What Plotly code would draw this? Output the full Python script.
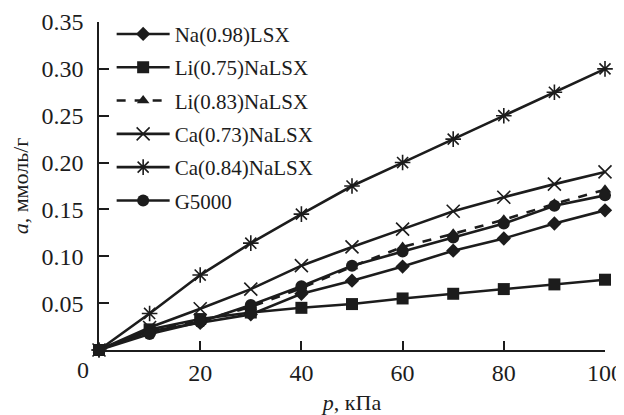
import plotly.graph_objects as go

pressure = [0, 10, 20, 30, 40, 50, 60, 70, 80, 90, 100]

na098 = [0, 0.020, 0.029, 0.038, 0.060, 0.074, 0.089, 0.106, 0.119, 0.135, 0.149]
li075 = [0, 0.022, 0.033, 0.040, 0.045, 0.049, 0.055, 0.060, 0.065, 0.070, 0.075]
li083 = [0, 0.020, 0.031, 0.046, 0.066, 0.089, 0.110, 0.124, 0.139, 0.156, 0.171]
ca073 = [0, 0.024, 0.044, 0.065, 0.090, 0.110, 0.129, 0.148, 0.163, 0.177, 0.190]
ca084 = [0, 0.039, 0.080, 0.114, 0.145, 0.175, 0.200, 0.225, 0.250, 0.275, 0.300]
g5000 = [0, 0.017, 0.030, 0.048, 0.068, 0.090, 0.105, 0.120, 0.135, 0.154, 0.165]

series_names = ["Na(0.98)LSX", "Li(0.75)NaLSX", "Li(0.83)NaLSX",
                "Ca(0.73)NaLSX", "Ca(0.84)NaLSX", "G5000"]
series_values = [na098, li075, li083, ca073, ca084, g5000]

x_ticks = [0, 20, 40, 60, 80, 100]
x_ticktext = ["", "20", "40", "60", "80", "100"]
y_ticks = [0, 0.05, 0.10, 0.15, 0.20, 0.25, 0.30, 0.35]
y_ticktext = ["", "0.05", "0.10", "0.15", "0.20", "0.25", "0.30", "0.35"]

INK = "#1c1c1c"
styles = [
    dict(symbol="diamond", size=11, dash="solid"),
    dict(symbol="square", size=12, dash="solid"),
    dict(symbol="triangle-up", size=11, dash="dash"),
    dict(symbol="x-thin-open", size=13, dash="solid"),
    dict(symbol="asterisk-open", size=13, dash="solid"),
    dict(symbol="circle", size=12, dash="solid"),
]

fig = go.Figure()
for i, (name, vals, st) in enumerate(zip(series_names, series_values, styles)):
    open_sym = st["symbol"].endswith("open")
    fig.add_trace(go.Scatter(
        x=pressure, y=vals, name=name, mode="lines+markers",
        legendgroup=f"g{i}",
        line=dict(color=INK, width=2.6, dash=st["dash"]),
        marker=dict(symbol=st["symbol"], size=st["size"], color=INK,
                    line=dict(color=INK, width=1.6 if open_sym else 0)),
        cliponaxis=False,
    ))

FONT = "Liberation Serif"
# the page body adds an 8 px offset, so margins are shifted to compensate
fig.update_layout(
    width=624, height=415,
    margin=dict(l=91, r=27, t=14, b=73, autoexpand=False),
    paper_bgcolor="white", plot_bgcolor="white",
    font=dict(family=FONT, size=24, color=INK),
    showlegend=True,
    legend=dict(x=0.025, y=1.025, xanchor="left", yanchor="top",
                font=dict(family=FONT, size=21, color=INK),
                bgcolor="rgba(0,0,0,0)", tracegroupgap=3,
                itemwidth=53, maxheight=400),
    xaxis=dict(range=[0, 100], tickmode="array", tickvals=x_ticks,
               ticktext=x_ticktext, ticks="inside", ticklen=9,
               tickwidth=1.5, tickcolor=INK, showline=True, linecolor=INK,
               linewidth=1.5, showgrid=False, zeroline=False,
               automargin=False, ticklabelstandoff=0,
               tickfont=dict(family=FONT, size=24, color=INK),
               title=dict(text="<i>p</i>, кПа",
                          font=dict(family=FONT, size=22, color=INK),
                          standoff=10)),
    yaxis=dict(range=[0, 0.35], tickmode="array", tickvals=y_ticks,
               ticktext=y_ticktext, ticks="inside", ticklen=10,
               tickwidth=1.5, tickcolor=INK, showline=True, linecolor=INK,
               linewidth=1.5, showgrid=False, zeroline=False,
               automargin=False, ticklabelstandoff=9,
               tickfont=dict(family=FONT, size=24, color=INK),
               title=dict(text="<i>a</i>, ммоль/г",
                          font=dict(family=FONT, size=22, color=INK),
                          standoff=7)),
    annotations=[dict(text="0", xref="paper", yref="paper", x=-0.032, y=0,
                      xanchor="center", yanchor="top", yshift=-5,
                      showarrow=False,
                      font=dict(family=FONT, size=24, color=INK))],
)

fig.write_html("out.html")
